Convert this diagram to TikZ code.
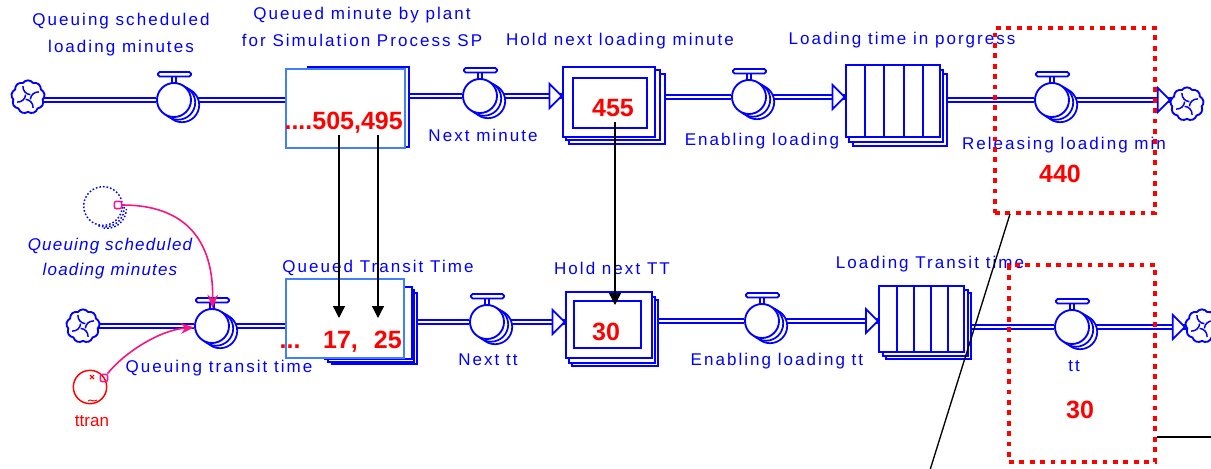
\documentclass[tikz,border=0pt]{standalone}
\usepackage{fontspec}
\setmainfont{Liberation Sans}
\newfontfamily\labfont[LetterSpace=12]{Liberation Sans}
\newfontfamily\labitfont[LetterSpace=7]{Liberation Sans}
\usetikzlibrary{shapes.symbols,arrows.meta,calc,backgrounds}
\definecolor{fblue}{RGB}{0,0,255}
\definecolor{lblue}{RGB}{64,128,255}
\definecolor{fred}{RGB}{255,0,0}
\definecolor{fpink}{RGB}{250,20,130}
\tikzset{
  pipe/.style={draw=fblue, line width=1.1pt, double=white, double distance=2.1pt},
  flowhead/.style={draw=fblue, line width=1.3pt, fill=white, line join=miter},
  valvebody/.style={circle, draw=fblue, fill=white, line width=1.4pt, minimum size=25.5pt, inner sep=0pt},
  valveshade/.style={draw=fblue, fill=white, line width=1.3pt},
  valvehandle/.style={draw=fblue, fill=white, line width=1.3pt},
  sourcecloud/.style={cloud, cloud puffs=9, cloud puff arc=110, aspect=1, draw=fblue, fill=white, line width=1.4pt, minimum width=25pt, minimum height=25pt, inner sep=0pt},
  qfront/.style={rectangle, draw=lblue, fill=white, line width=1.2pt, inner sep=0pt},
  qshade/.style={draw=fblue, fill=white, line width=1.4pt},
  holdbox/.style={rectangle, draw=fblue, fill=white, line width=2.2pt, inner sep=0pt},
  holdshade/.style={draw=fblue, fill=white, line width=1.4pt},
  convbox/.style={rectangle, draw=fblue, fill=white, line width=2.2pt, inner sep=0pt},
  lab/.style={text=fblue, font=\labfont\fontsize{12.75pt}{20.25pt}\selectfont, inner sep=0pt, anchor=north, align=center},
  labit/.style={text=fblue, font=\labitfont\itshape\fontsize{12.75pt}{18.75pt}\selectfont, inner sep=0pt, anchor=north, align=center},
  val/.style={text=fred, font=\bfseries\fontsize{18.75pt}{22pt}\selectfont, inner sep=0pt, anchor=base},
  dotbox/.style={rectangle, draw=fred, line width=3.6pt, dash pattern=on 3.6pt off 4.2pt, inner sep=0pt},
  link/.style={draw=black, line width=1pt, -{Triangle[length=9pt, width=9pt]}},
  infl/.style={draw=fpink, line width=1.2pt, -{Stealth[length=10pt, width=8pt]}},
  marker/.style={rectangle, rounded corners=1.5pt, draw=fpink, line width=1.1pt, minimum size=5.5pt, inner sep=0pt},
  ghostline/.style={draw=fblue, line width=1.1pt, dash pattern=on 1.2pt off 1.5pt},
}
\newcommand\drawvalve[3]{%
  \draw[valveshade] (#2+8,#3+5) circle[radius=12.9pt];
  \draw[valveshade] (#2+4,#3+2.5) circle[radius=12.9pt];
  \draw[valvehandle] (#2-1.8,#3-17) rectangle (#2+1.8,#3-24);
  \draw[valvehandle, rounded corners=1.2pt] (#2-16,#3-23.5) rectangle (#2+17,#3-28);
  \node[valvebody] (#1) at (#2,#3) {};
}
\newcommand\cloudswirl[1]{%
  \foreach \a in {45,135,225,315}
    \draw[fblue, line width=1.1pt] ($(#1)+(\a:2.5pt)$) to[bend left=45] ($(#1)+(\a+70:9pt)$);
}
\begin{document}
\begin{tikzpicture}[x=0.75pt, y=-0.75pt]
\useasboundingbox (0,0) rectangle (1211,468);
\begin{scope}[on background layer]
\fill[white] (0,0) rectangle (1211,468);
\end{scope}

% ---------- top row ----------
\node[sourcecloud] (cTL) at (28,97) {};
\cloudswirl{cTL}
\drawvalve{v1}{174}{100}
\draw[qshade] (308,67) rectangle (409,147);
\node[qfront, minimum width=89.25pt, minimum height=59.25pt] (box1) at (345.5,108.5) {};
\drawvalve{v2}{480}{96}
\draw[holdshade] (569,74) rectangle (665,144);
\draw[holdshade] (566,70) rectangle (660,140);
\node[holdbox, minimum width=69pt, minimum height=52.5pt] (hold1) at (609,102) {};
\node[holdbox, minimum width=55.5pt, minimum height=37.5pt] (hold1in) at (610,103) {};
\drawvalve{v3}{749}{97}
\draw[holdshade] (853,74) rectangle (947,146);
\draw[holdshade] (849,70) rectangle (943,142);
\node[convbox, minimum width=70.5pt, minimum height=54pt] (conv1) at (893,101) {};
\foreach \x in {865,884,904,923} \draw[fblue, line width=2.2pt] (\x,0 |- conv1.north) -- (\x,0 |- conv1.south);
\drawvalve{v4}{1052}{100}
\node[sourcecloud] (cTR) at (1187,104) {};
\cloudswirl{cTR}

% ---------- bottom row ----------
\node[sourcecloud] (cBL) at (83,326) {};
\cloudswirl{cBL}
\drawvalve{vq}{212}{326}
\draw[qshade] (332,293) rectangle (417,364);
\draw[qshade] (328,290) rectangle (414,362);
\draw[qshade] (325,287) rectangle (412,359);
\node[qfront, minimum width=88.5pt, minimum height=59.25pt] (box2) at (345,318.5) {};
\drawvalve{vnt}{487}{322}
\draw[holdshade] (572,300) rectangle (658,366);
\draw[holdshade] (569,297) rectangle (655,363);
\node[holdbox, minimum width=64.5pt, minimum height=49.5pt] (hold2) at (609,325) {};
\node[holdbox, minimum width=50.25pt, minimum height=35.25pt] (hold2in) at (607.5,324.5) {};
\drawvalve{vel}{762}{321}
\draw[holdshade] (886,293) rectangle (971,359);
\draw[holdshade] (883,290) rectangle (968,356);
\node[convbox, line width=1.6pt, minimum width=63.75pt, minimum height=49.5pt] (conv2) at (921.5,319) {};
\foreach \x in {897,914,931,948} \draw[fblue, line width=1.6pt] (\x,0 |- conv2.north) -- (\x,0 |- conv2.south);
\drawvalve{vtt}{1072}{327}
\node[sourcecloud] (cBR) at (1202,326) {};
\cloudswirl{cBR}

% ---------- pipes ----------
\begin{scope}[on background layer]
\draw[pipe] (cTL.center |- v1) -- (v1) -- (box1.center |- v1);
\draw[pipe] (box1.center |- v2) -- (v2) -- (hold1.center |- v2);
\draw[pipe] (hold1.center |- v3) -- (v3) -- (conv1.center |- v3);
\draw[pipe] (conv1.center |- v4) -- (v4) -- (cTR.center |- v4);
\draw[pipe] (cBL.center |- vq) -- (vq) -- (box2.center |- vq);
\draw[pipe] (box2.center |- vnt) -- (vnt) -- (hold2.center |- vnt);
\draw[pipe] (hold2.center |- vel) -- (vel) -- (conv2.center |- vel);
\draw[pipe] (conv2.center |- vtt) -- (vtt) -- (cBR.center |- vtt);
\end{scope}
\draw[flowhead] (hold1.west |- v2) -- ++(-12,-12) -- ++(0,24) -- cycle;
\draw[flowhead] (conv1.west |- v3) -- ++(-12,-12) -- ++(0,24) -- cycle;
\draw[flowhead] (cTR.west |- v4) -- ++(-12,-12) -- ++(0,24) -- cycle;
\draw[flowhead] (hold2.west |- vnt) -- ++(-12,-12) -- ++(0,24) -- cycle;
\draw[flowhead] (conv2.west |- vel) -- ++(-12,-12) -- ++(0,24) -- cycle;
\draw[flowhead] (cBR.west |- vtt) -- ++(-12,-12) -- ++(0,24) -- cycle;

% ---------- ghost and ttran ----------
\node[circle, ghostline, minimum size=29pt, inner sep=0pt] (ghost) at (103,206) {};
\draw[ghostline] ($(ghost.center)+(2,1.5)$) ++(-110:14.5pt) arc[start angle=-110, end angle=10, radius=14.5pt];
\draw[ghostline] ($(ghost.center)+(4,3)$) ++(-100:14.5pt) arc[start angle=-100, end angle=0, radius=14.5pt];
\node[marker] (gm) at (118,205) {};
\node[circle, draw=fred, line width=1.1pt, minimum size=25pt, inner sep=0pt] (ttran) at (90,387) {};
\draw[fred, line width=0.8pt] (90,375) -- (94,379) (90,379) -- (94,375);
\draw[fred, line width=0.7pt] (88,401) .. controls (90,398) and (94,403) .. (97,400);
\node[marker] (tm) at (104,378) {};
\draw[infl] (gm) .. controls (185,205) and (214,240) .. (vq);
\draw[infl] (tm) .. controls (125,352) and (160,330) .. (vq);

% ---------- labels ----------
\node[lab] (tQSL) at (121,13) {Queuing scheduled\\loading minutes};
\node[lab] (tQMP) at (362,7) {Queued minute by plant\\for Simulation Process SP};
\node[lab] (tHNL) at (620,33) {Hold next loading minute};
\node[lab] (tLTP) at (902,32) {Loading time in porgress};
\node[lab] (tNM) at (483,129) {Next minute};
\node[lab] (tEL) at (762,133) {Enabling loading};
\node[lab] (tRLM) at (1064,137) {Releasing loading min};
\node[lab] (tQTT) at (378,260) {Queued Transit Time};
\node[lab] (tQTr) at (219,360) {Queuing transit time};
\node[lab] (tHTT) at (612,262) {Hold next TT};
\node[lab] (tNtt) at (488,354) {Next tt};
\node[lab] (tELtt) at (777,353) {Enabling loading tt};
\node[lab] (tLTT) at (930,256) {Loading Transit time};
\node[lab] (ttt) at (1074,360) {tt};
\node[labit] (tghost) at (110,238) {Queuing scheduled\\loading minutes};
\node[text=fred, font=\fontsize{12.75pt}{15pt}\selectfont, anchor=north, inner sep=0pt] (tttran) at (92,415) {ttran};

% ---------- values ----------
\node[val, anchor=base east] (n505) at (403,129) {....505,495};
\node[val] (n455) at (613,116) {455};
\node[val] (n440) at (1060,182) {440};
\node[val, anchor=base east] (n1725) at (402,348) {...\hspace{17pt}17,\hspace{12pt}25};
\node[val] (n30a) at (606,340) {30};
\node[val] (n30b) at (1080,418) {30};

% ---------- links ----------
\coordinate (l1s) at (339,135); \coordinate (l1e) at (339,318);
\coordinate (l2s) at (378,135); \coordinate (l2e) at (378,318);
\coordinate (l3s) at (615,122); \coordinate (l3e) at (615,305);
\draw[link] (l1s) -- (l1e);
\draw[link] (l2s) -- (l2e);
\draw[link] (l3s) -- (l3e);

% ---------- highlight boxes ----------
\node[dotbox, minimum width=120pt, minimum height=138.75pt] (rb1) at (1075,120.5) {};
\node[dotbox, minimum width=109.5pt, minimum height=147.75pt] (rb2) at (1082,363.5) {};
\coordinate (bl1) at (1010,214); \coordinate (bl2) at (930,470);
\draw[black, line width=1pt] (bl1) -- (bl2);
\coordinate (bh1) at (1157,437); \coordinate (bh2) at (1213,437);
\draw[black, line width=1pt] (bh1) -- (bh2);
\end{tikzpicture}
\end{document}
